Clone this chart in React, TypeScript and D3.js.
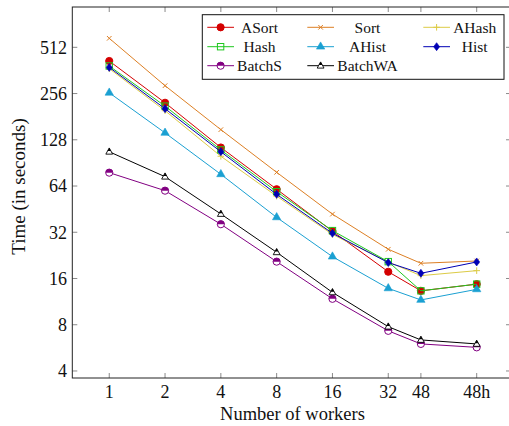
import * as d3 from "d3";

// worker counts (48h is placed where 96 would sit on the log2 axis)
const workers = [1, 2, 4, 8, 16, 32, 48, 96];
const workerLabels = ["1", "2", "4", "8", "16", "32", "48", "48h"];
const yTicks = [4, 8, 16, 32, 64, 128, 256, 512];

const aSort = [417, 223, 114, 61, 32.5, 17.7, 13.3, 14.7];
const sort = [586, 288, 149, 78.6, 42, 24.8, 20.1, 20.8];
const aHash = [372, 198, 100, 55, 31, 20.5, 16.7, 18.0];
const hash = [387, 212, 110, 58.8, 32.8, 20.6, 13.3, 14.7];
const aHist = [259, 142, 76.3, 40, 22.2, 13.8, 11.6, 13.6];
const hist = [379, 204, 107, 56.5, 31.5, 20.3, 17.3, 20.5];
const batchS = [78.2, 59.7, 36.1, 20.6, 11.8, 7.3, 6.0, 5.7];
const batchWA = [107, 73.6, 42.1, 23.7, 13.0, 7.77, 6.37, 6.0];

const series = [
  { name: "ASort", values: aSort, color: "#d40000", mark: "circle" },
  { name: "Sort", values: sort, color: "#dd7f24", mark: "x" },
  { name: "AHash", values: aHash, color: "#dccb45", mark: "plus" },
  { name: "Hash", values: hash, color: "#1fc81f", mark: "square" },
  { name: "AHist", values: aHist, color: "#1aa0d2", mark: "triangle" },
  { name: "Hist", values: hist, color: "#0000b4", mark: "diamond" },
  { name: "BatchS", values: batchS, color: "#820082", mark: "halfcircle" },
  { name: "BatchWA", values: batchWA, color: "#000000", mark: "halftriangle" },
];

const W = 509;
const H = 426;
const left = 72.3, right = 511, top = 7, bottom = 378;
const font = "Liberation Serif, DejaVu Serif, serif";

const x = d3.scaleLog().base(2).domain([0.632, 147]).range([left, right]);
const y = d3.scaleLog().base(2).domain([3.6, 937]).range([bottom, top]);

function Marker({ mark, color, cx, cy }: { mark: string; color: string; cx: number; cy: number }) {
  const t = `translate(${cx},${cy})`;
  if (mark === "circle")
    return <circle cx={cx} cy={cy} r={3.6} fill={color} stroke={color} />;
  if (mark === "x")
    return (
      <path transform={t} d="M-2.3,-2.3L2.3,2.3M-2.3,2.3L2.3,-2.3" stroke={color} strokeWidth={1} fill="none" />
    );
  if (mark === "plus")
    return <path transform={t} d="M-3.3,0L3.3,0M0,-3.3L0,3.3" stroke={color} strokeWidth={1} fill="none" />;
  if (mark === "square")
    return <rect x={cx - 3.2} y={cy - 3.2} width={6.4} height={6.4} fill="none" stroke={color} strokeWidth={1} />;
  if (mark === "triangle")
    return <path transform={t} d={d3.symbol(d3.symbolTriangle, 30)()!} fill={color} stroke={color} strokeWidth={0.6} />;
  if (mark === "diamond")
    return <path transform={t} d="M0,-4L3,0L0,4L-3,0Z" fill={color} stroke={color} strokeWidth={0.6} />;
  if (mark === "halfcircle")
    return (
      <g transform={t}>
        <circle r={3.6} fill="white" stroke={color} strokeWidth={1} />
        <path d="M-3.6,0A3.6,3.6 0 0 1 3.6,0Z" fill={color} />
      </g>
    );
  // halftriangle
  return (
    <g transform={t}>
      <path d="M0,-3.8L3.4,2.4L-3.4,2.4Z" fill="white" stroke={color} strokeWidth={0.9} />
      <path d="M0,-3.8L1.7,-0.7L-1.7,-0.7Z" fill={color} />
    </g>
  );
}

const legendCols = [
  { lx: 207.3, tx: 259.5 },
  { lx: 307.3, tx: 367.5 },
  { lx: 423.3, tx: 474.7 },
];
const legendRows = [27.3, 46.7, 65.7];

export default function App() {
  const line = d3
    .line<number>()
    .x((_, i) => x(workers[i]))
    .y((d) => y(d));

  return (
    <svg width={W} height={H} style={{ position: "absolute", left: 0, top: 0, background: "white" }}>
      <g>
        {/* ticks on all four sides, pointing inward */}
        {workers.map((w, i) => (
          <g key={"xt" + i} stroke="#8a8a8a" strokeWidth={1}>
            <line x1={x(w)} x2={x(w)} y1={bottom} y2={bottom - 5} />
            <line x1={x(w)} x2={x(w)} y1={top} y2={top + 5} />
          </g>
        ))}
        {yTicks.map((v) => (
          <g key={"yt" + v} stroke="#8a8a8a" strokeWidth={1}>
            <line x1={left} x2={left + 5} y1={y(v)} y2={y(v)} />
            <line x1={right} x2={right - 5} y1={y(v)} y2={y(v)} />
          </g>
        ))}
      </g>
      {series.map((s) => (
        <g key={s.name}>
          <path d={line(s.values)!} fill="none" stroke={s.color} strokeWidth={1} />
          {s.values.map((v, i) => (
            <Marker key={i} mark={s.mark} color={s.color} cx={x(workers[i])} cy={y(v)} />
          ))}
        </g>
      ))}
      <rect x={left} y={top} width={right - left} height={bottom - top} fill="none" stroke="#222" strokeWidth={1} />
      {/* tick labels */}
      {workers.map((w, i) => (
        <text key={"xl" + i} x={x(w)} y={397.5} textAnchor="middle" fontFamily={font} fontSize={18} fill="#111">
          {workerLabels[i]}
        </text>
      ))}
      {yTicks.map((v) => (
        <text key={"yl" + v} x={67} y={y(v) + 6.3} textAnchor="end" fontFamily={font} fontSize={18} fill="#111">
          {v}
        </text>
      ))}
      <text x={292.5} y={420} textAnchor="middle" fontFamily={font} fontSize={18.5} fill="#111">
        Number of workers
      </text>
      <text
        transform={`translate(25,186.5) rotate(-90)`}
        textAnchor="middle"
        fontFamily={font}
        fontSize={19}
        fill="#111"
      >
        Time (in seconds)
      </text>
      {/* legend */}
      <rect x={202.3} y={14.7} width={301.7} height={64.6} fill="white" stroke="#111" strokeWidth={1} />
      {series.map((s, i) => {
        const c = legendCols[i % 3];
        const r = legendRows[Math.floor(i / 3)];
        return (
          <g key={"lg" + s.name}>
            <line x1={c.lx} x2={c.lx + 26.7} y1={r} y2={r} stroke={s.color} strokeWidth={1} />
            <Marker mark={s.mark} color={s.color} cx={c.lx + 13.3} cy={r} />
            <text x={c.tx} y={r + 5.2} textAnchor="middle" fontFamily={font} fontSize={15.5} fill="#111">
              {s.name}
            </text>
          </g>
        );
      })}
    </svg>
  );
}
